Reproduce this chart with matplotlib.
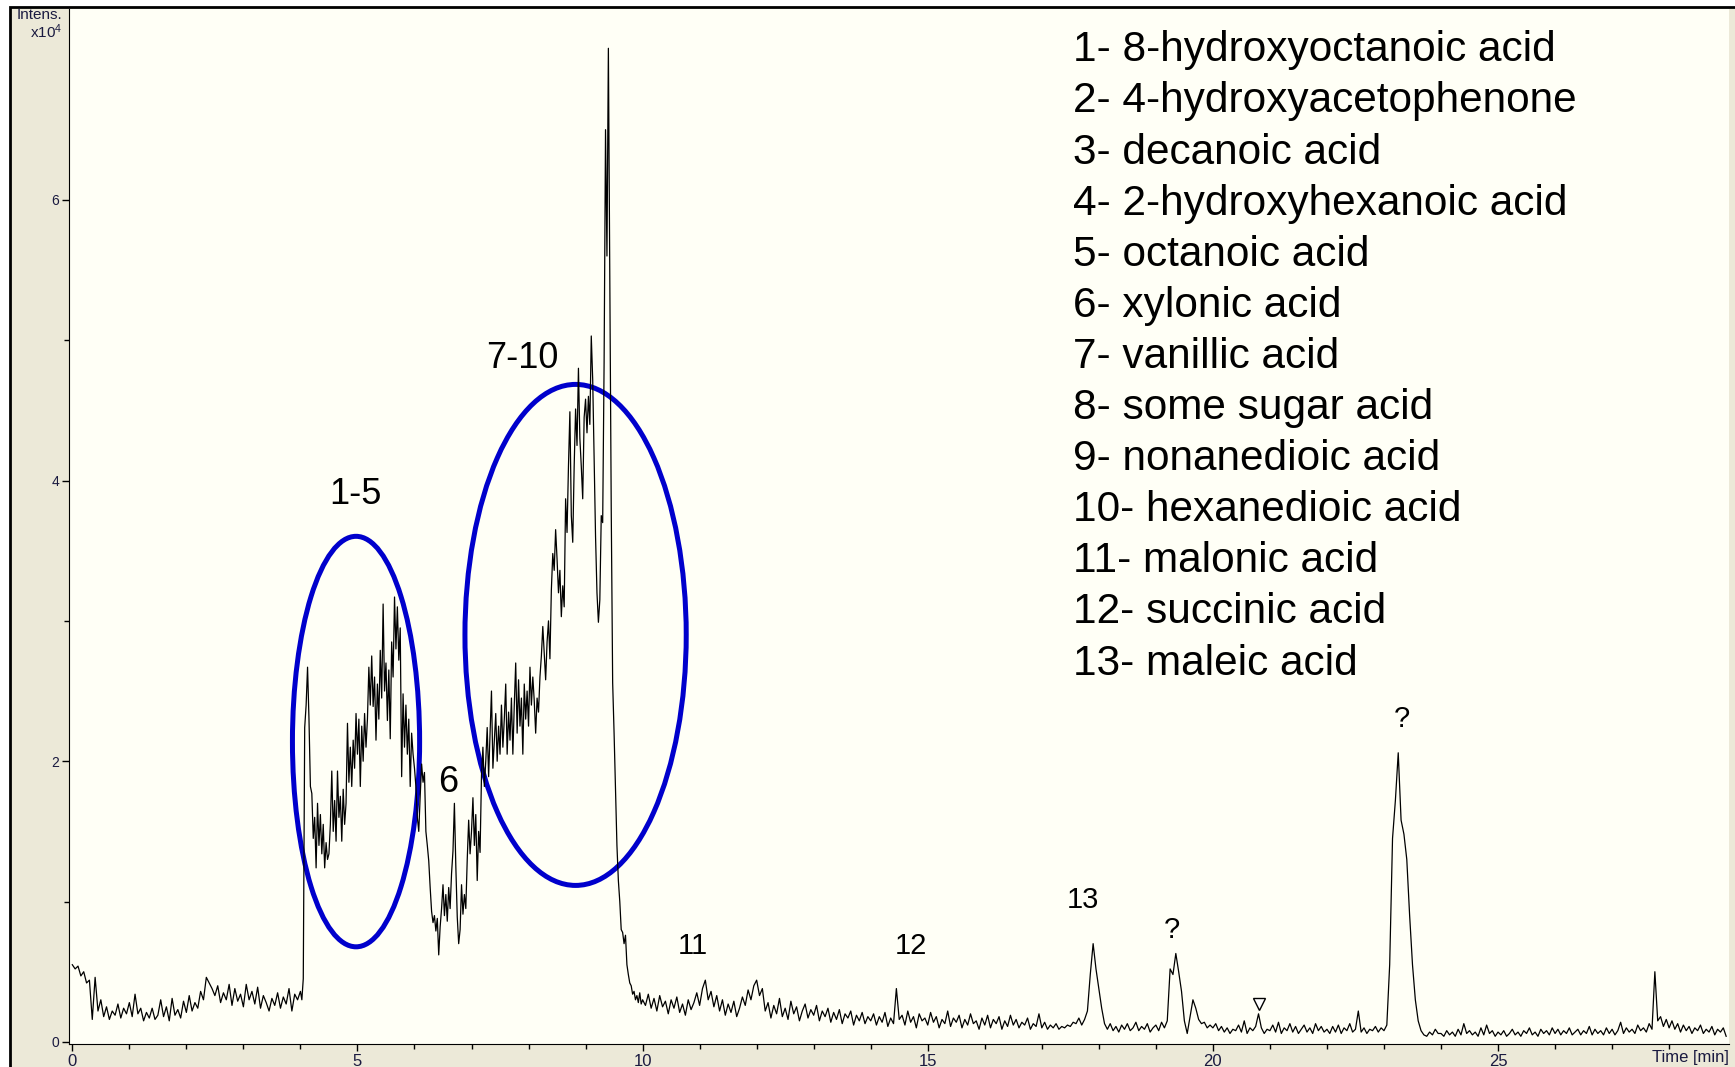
import numpy as np
import matplotlib.pyplot as plt
from matplotlib.patches import Ellipse, Rectangle

plt.rcParams['font.family'] = ['Liberation Sans', 'DejaVu Sans']
plt.rcParams['mathtext.default'] = 'regular'

# intensity x10^4, in three scan blocks
# 0.00 - 3.95 min, every 0.05 min
early_start, early_step = 0.0, 0.05
early = [
  0.55, 0.52, 0.54, 0.47, 0.50, 0.42, 0.44, 0.16, 0.46, 0.22, 0.30, 0.18, 0.25, 0.16, 0.22, 0.19, 0.27, 0.17, 0.24, 0.20,  # 0
  0.28, 0.18, 0.34, 0.20, 0.24, 0.15, 0.21, 0.17, 0.24, 0.16, 0.19, 0.30, 0.18, 0.25, 0.15, 0.31, 0.19, 0.23, 0.17, 0.29,  # 1
  0.21, 0.33, 0.22, 0.28, 0.24, 0.36, 0.30, 0.46, 0.42, 0.38, 0.33, 0.40, 0.28, 0.35, 0.30, 0.41, 0.26, 0.38, 0.29, 0.34,  # 2
  0.25, 0.41, 0.30, 0.36, 0.27, 0.39, 0.24, 0.33, 0.28, 0.22, 0.31, 0.26, 0.35, 0.24, 0.32, 0.27, 0.38, 0.22, 0.34, 0.30,  # 3
]

# 4.000 - 9.975 min, every 0.025 min (the crowded hump)
hump_start, hump_step = 4.0, 0.025
hump = [
  0.36, 0.30, 0.45, 2.24, 2.40, 2.67, 2.30, 1.82, 1.77, 1.45, 1.60, 1.24, 1.70, 1.40, 1.62, 1.34, 1.55, 1.24, 1.42, 1.30,
  1.34, 1.55, 1.93, 1.50, 1.72, 1.43, 1.93, 1.60, 1.75, 1.43, 1.80, 1.55, 1.70, 2.27, 1.85, 2.10, 1.82, 2.15, 1.95, 2.34,  # 4
  2.05, 2.30, 1.82, 2.25, 2.00, 2.34, 2.10, 2.30, 2.67, 2.40, 2.75, 2.39, 2.60, 2.15, 2.55, 2.30, 2.79, 2.45, 3.12, 2.50,
  2.70, 2.29, 2.65, 2.16, 2.85, 2.60, 3.17, 2.80, 3.10, 2.72, 2.95, 1.89, 2.48, 2.10, 2.40, 2.05, 2.30, 1.82, 2.20, 2.05,  # 5
  1.95, 1.82, 1.60, 1.50, 1.75, 1.98, 1.85, 1.92, 1.50, 1.40, 1.29, 1.10, 0.93, 0.85, 0.90, 0.79, 0.88, 0.62, 0.82, 0.95,
  1.12, 0.90, 1.05, 0.86, 1.10, 0.95, 1.20, 1.36, 1.70, 1.25, 0.89, 0.70, 0.80, 1.12, 0.91, 1.05, 0.95, 1.30, 1.58, 1.34,  # 6
  1.50, 1.74, 1.40, 1.62, 1.15, 1.50, 1.35, 1.90, 2.10, 1.82, 2.00, 2.24, 1.89, 2.20, 2.50, 1.95, 2.15, 2.34, 2.00, 2.25,
  2.05, 2.40, 2.10, 2.30, 2.55, 2.05, 2.35, 2.15, 2.45, 2.05, 2.40, 2.70, 2.20, 2.58, 2.25, 2.45, 2.05, 2.55, 2.30, 2.50,  # 7
  2.25, 2.67, 2.40, 2.60, 2.43, 2.20, 2.45, 2.35, 2.60, 2.75, 2.96, 2.77, 2.58, 2.85, 3.00, 2.73, 3.22, 3.48, 3.36, 3.65,
  3.44, 3.20, 3.36, 3.03, 3.25, 3.10, 3.87, 3.63, 4.10, 4.49, 3.75, 3.56, 4.10, 4.51, 4.25, 4.80, 4.30, 4.10, 3.87, 4.45,  # 8
  4.58, 4.34, 4.60, 4.40, 5.03, 4.72, 4.15, 3.60, 3.20, 2.99, 3.15, 3.75, 3.70, 4.84, 6.50, 5.60, 7.08, 5.40, 3.80, 2.56,
  2.20, 1.80, 1.40, 1.15, 1.00, 0.80, 0.78, 0.70, 0.76, 0.55, 0.48, 0.42, 0.40, 0.34, 0.36, 0.30, 0.33, 0.28, 0.35, 0.27,  # 9
]

# 10.00 - 29.00 min, every 0.05 min
late_start, late_step = 10.0, 0.05
late = [
  0.30, 0.26, 0.34, 0.24, 0.31, 0.22, 0.33, 0.25, 0.29, 0.20, 0.30, 0.24, 0.32, 0.21, 0.27, 0.19, 0.30, 0.23, 0.28, 0.35,  # 10
  0.26, 0.38, 0.44, 0.30, 0.36, 0.25, 0.33, 0.22, 0.30, 0.19, 0.27, 0.21, 0.29, 0.18, 0.24, 0.32, 0.26, 0.37, 0.30, 0.40,  # 11
  0.44, 0.33, 0.38, 0.22, 0.28, 0.17, 0.26, 0.20, 0.31, 0.18, 0.24, 0.16, 0.29, 0.20, 0.25, 0.15, 0.22, 0.27, 0.17, 0.23,  # 12
  0.19, 0.26, 0.15, 0.22, 0.18, 0.24, 0.14, 0.21, 0.16, 0.23, 0.13, 0.20, 0.17, 0.22, 0.12, 0.19, 0.15, 0.21, 0.13, 0.18,  # 13
  0.15, 0.20, 0.12, 0.18, 0.14, 0.21, 0.11, 0.17, 0.13, 0.38, 0.16, 0.19, 0.12, 0.22, 0.14, 0.18, 0.10, 0.20, 0.15, 0.17,  # 14
  0.12, 0.21, 0.14, 0.18, 0.10, 0.16, 0.13, 0.22, 0.11, 0.17, 0.14, 0.19, 0.10, 0.16, 0.12, 0.20, 0.13, 0.15, 0.09, 0.17,  # 15
  0.12, 0.19, 0.10, 0.16, 0.13, 0.18, 0.09, 0.15, 0.11, 0.19, 0.12, 0.16, 0.10, 0.14, 0.12, 0.17, 0.09, 0.13, 0.11, 0.20,  # 16
  0.10, 0.14, 0.09, 0.12, 0.10, 0.13, 0.09, 0.11, 0.10, 0.12, 0.11, 0.14, 0.13, 0.17, 0.12, 0.16, 0.22, 0.48, 0.70, 0.52,  # 17
  0.38, 0.24, 0.13, 0.09, 0.13, 0.08, 0.11, 0.07, 0.12, 0.09, 0.13, 0.08, 0.10, 0.14, 0.08, 0.11, 0.09, 0.13, 0.07, 0.10,  # 18
  0.12, 0.08, 0.14, 0.10, 0.15, 0.52, 0.48, 0.63, 0.50, 0.36, 0.15, 0.06, 0.18, 0.30, 0.24, 0.16, 0.13, 0.14, 0.10, 0.12,  # 19
  0.10, 0.13, 0.08, 0.11, 0.07, 0.10, 0.06, 0.09, 0.08, 0.12, 0.07, 0.15, 0.06, 0.10, 0.08, 0.11, 0.20, 0.10, 0.06, 0.09,  # 20
  0.08, 0.12, 0.07, 0.14, 0.06, 0.10, 0.08, 0.13, 0.07, 0.11, 0.06, 0.09, 0.12, 0.07, 0.10, 0.06, 0.13, 0.08, 0.11, 0.07,  # 21
  0.09, 0.06, 0.11, 0.07, 0.12, 0.06, 0.10, 0.08, 0.13, 0.07, 0.09, 0.22, 0.07, 0.10, 0.06, 0.09, 0.08, 0.11, 0.07, 0.10,  # 22
  0.08, 0.12, 0.55, 1.45, 1.72, 2.06, 1.58, 1.48, 1.30, 0.90, 0.55, 0.30, 0.15, 0.08, 0.05, 0.04, 0.07, 0.05, 0.09, 0.06,  # 23
  0.06, 0.04, 0.08, 0.05, 0.07, 0.04, 0.09, 0.05, 0.13, 0.06, 0.08, 0.05, 0.07, 0.04, 0.10, 0.05, 0.12, 0.06, 0.08, 0.04,  # 24
  0.07, 0.05, 0.08, 0.04, 0.06, 0.09, 0.05, 0.07, 0.04, 0.08, 0.06, 0.10, 0.05, 0.07, 0.04, 0.09, 0.06, 0.08, 0.05, 0.10,  # 25
  0.06, 0.09, 0.05, 0.08, 0.06, 0.10, 0.05, 0.07, 0.09, 0.05, 0.08, 0.06, 0.11, 0.05, 0.09, 0.06, 0.08, 0.05, 0.10, 0.06,  # 26
  0.09, 0.05, 0.08, 0.14, 0.06, 0.10, 0.07, 0.09, 0.06, 0.12, 0.08, 0.10, 0.07, 0.13, 0.09, 0.50, 0.15, 0.18, 0.11, 0.16,  # 27
  0.10, 0.15, 0.09, 0.13, 0.07, 0.12, 0.08, 0.11, 0.06, 0.10, 0.08, 0.12, 0.06, 0.09, 0.07, 0.11, 0.05, 0.09, 0.07, 0.10,  # 28
  0.04,
]

# peak labels: text, time (min), intensity, fontsize
peak_labels = ["1-5", "6", "7-10", "11", "12", "13", "?", "?"]
label_time = [4.97, 6.59, 7.89, 10.88, 14.70, 17.73, 19.28, 23.31]
label_int = [3.90, 1.85, 4.87, 0.68, 0.68, 1.01, 0.80, 2.30]
label_size = [26, 26, 26, 21, 21, 21, 21, 21]

# circled regions: centre time, centre intensity, width (min), height
circle_time = [4.975, 8.825]
circle_int = [2.14, 2.90]
circle_w = [2.23, 3.88]
circle_h = [2.925, 3.57]

# unidentified marker
marker_time = 20.8
marker_int = 0.27

compounds = [
  "1- 8-hydroxyoctanoic acid",
  "2- 4-hydroxyacetophenone",
  "3- decanoic acid",
  "4- 2-hydroxyhexanoic acid",
  "5- octanoic acid",
  "6- xylonic acid",
  "7- vanillic acid",
  "8- some sugar acid",
  "9- nonanedioic acid",
  "10- hexanedioic acid",
  "11- malonic acid",
  "12- succinic acid",
  "13- maleic acid",
]

TICK_FONT = ['Liberation Sans Narrow', 'Liberation Sans', 'DejaVu Sans']
TICK_COLOR = '#1a1a40'

times = np.concatenate([early_start + np.arange(len(early))*early_step,
                        hump_start + np.arange(len(hump))*hump_step,
                        late_start + np.arange(len(late))*late_step])
intensity = np.array(early + hump + late)

fig = plt.figure(figsize=(17.35, 10.67), dpi=100, facecolor='white')

# grey instrument-software frame behind the plot
bg = fig.add_axes([0, 0, 1, 1], zorder=-5)
bg.set_axis_off()
bg.set_xlim(0, 1)
bg.set_ylim(0, 1)
bg.add_patch(Rectangle((10/1735, -0.01), 1.01, 1 - 7/1067 + 0.01,
                       facecolor='#ECE9D8', edgecolor='black', linewidth=2, clip_on=False))

ax = fig.add_axes([69/1735, 23/1067, 1660/1735, 1035/1067])
ax.set_facecolor('#FFFFF6')

ax.plot(times, intensity, color='black', linewidth=0.9)
ax.plot(marker_time, marker_int, marker='v', markersize=9, markerfacecolor='white',
        markeredgecolor='black', markeredgewidth=1)

for i in range(len(circle_time)):
  ax.add_patch(Ellipse((circle_time[i], circle_int[i]), circle_w[i], circle_h[i],
                       fill=False, edgecolor='#0000CC', linewidth=3.6))

for i in range(len(peak_labels)):
  ax.text(label_time[i], label_int[i], peak_labels[i], fontsize=label_size[i],
          ha='center', va='center', color='black')

for i, name in enumerate(compounds):
  ax.text(0.605, 0.960 - i*0.04937, name, transform=ax.transAxes, fontsize=30.5,
          ha='left', va='center', color='black')

ax.set_xlim(-0.058, 29.05)
ax.set_ylim(-0.015, 7.36)

ax.spines['top'].set_visible(False)
ax.spines['right'].set_visible(False)

ax.set_xticks([0, 5, 10, 15, 20, 25])
ax.set_xticks(np.arange(0, 29), minor=True)
ax.set_yticks([0, 2, 4, 6])
ax.set_yticks([1, 3, 5], minor=True)
ax.tick_params(which='major', length=5, width=1, direction='out', labelcolor=TICK_COLOR, pad=2)
ax.tick_params(which='minor', length=3.5, width=1, direction='out')
for lab in ax.get_xticklabels():
  lab.set_fontfamily(TICK_FONT)
  lab.set_fontsize(12)
for lab in ax.get_yticklabels():
  lab.set_fontfamily(TICK_FONT)
  lab.set_fontsize(10)

ax.text(1.0, -0.006, "Time [min]", transform=ax.transAxes, fontsize=12, family=TICK_FONT,
        ha='right', va='top', color=TICK_COLOR)
fig.text(62/1735, 1 - 8/1067, "Intens.\nx10$^4$", fontsize=11, family=TICK_FONT,
         ha='right', va='top', color=TICK_COLOR, linespacing=1.0)

fig.savefig("out.png", dpi=100, facecolor=fig.get_facecolor())
